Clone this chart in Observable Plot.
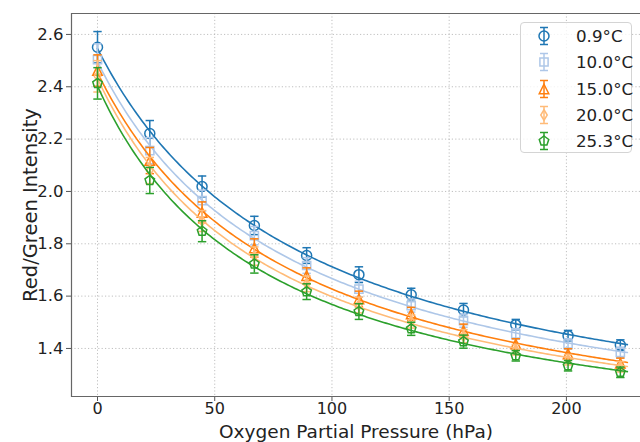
<!DOCTYPE html>
<html><head><meta charset="utf-8">
<script src="https://cdn.jsdelivr.net/npm/d3@7"></script>
<script src="https://cdn.jsdelivr.net/npm/@observablehq/plot@0.6"></script>
<style>
html,body{margin:0;padding:0;background:#fff;overflow:hidden}
#wrap{position:relative;width:640px;height:442px}
#legend{position:absolute;left:520px;top:22px;width:112px;height:131px;border:1px solid #d4d4d4;border-radius:4px;background:rgba(255,255,255,0.8);font-family:"DejaVu Sans";font-size:16.7px;color:#222;box-sizing:border-box}
.row{position:absolute;left:0;height:26px;width:112px}
.row svg{position:absolute;left:8px;top:0}
.row span{position:absolute;left:55px;top:3px;line-height:20px}
</style></head><body><div id="wrap"></div>
<script>
// Oxygen partial pressure (hPa)
const pressures = [0, 22.3, 44.6, 66.9, 89.2, 111.5, 133.8, 156.1, 178.4, 200.7, 223.0];
const seriesLabels = ["0.9°C", "10.0°C", "15.0°C", "20.0°C", "25.3°C"];
const ratio09 = [2.551, 2.221, 2.019, 1.870, 1.755, 1.682, 1.605, 1.547, 1.491, 1.449, 1.413];
const ratio10 = [2.504, 2.156, 1.965, 1.831, 1.717, 1.627, 1.564, 1.506, 1.456, 1.417, 1.385];
const ratio15 = [2.462, 2.118, 1.920, 1.784, 1.678, 1.589, 1.532, 1.468, 1.417, 1.379, 1.343];
const ratio20 = [2.440, 2.080, 1.887, 1.753, 1.647, 1.566, 1.503, 1.447, 1.395, 1.357, 1.330];
const ratio25 = [2.413, 2.042, 1.848, 1.723, 1.617, 1.541, 1.475, 1.426, 1.372, 1.334, 1.309];
const errors  = [0.060, 0.050, 0.040, 0.035, 0.030, 0.030, 0.025, 0.025, 0.020, 0.020, 0.020];
const xTicks = [0, 50, 100, 150, 200];
const yTicks = [1.4, 1.6, 1.8, 2.0, 2.2, 2.4, 2.6];
const fitExtent = [0, 226];

const colors = ["#1f77b4", "#aec7e8", "#ff7f0e", "#ffbb78", "#2ca02c"];
const values = [ratio09, ratio10, ratio15, ratio20, ratio25];

// custom marker shapes (size -> radius r)
const R = s => Math.sqrt(s / Math.PI);
const symbols = [
  {draw(c, s) { const r = R(s); c.moveTo(r, 0); c.arc(0, 0, r, 0, 2 * Math.PI); c.closePath(); }},
  {draw(c, s) { const r = R(s) * 0.82; c.moveTo(-r, -r); c.lineTo(r, -r); c.lineTo(r, r); c.lineTo(-r, r); c.closePath(); }},
  {draw(c, s) { const r = R(s) * 0.95; c.moveTo(0, -r); c.lineTo(r, r); c.lineTo(-r, r); c.closePath(); }},
  {draw(c, s) { const r = R(s); c.moveTo(0, -r * 1.05); c.lineTo(r * 0.65, 0); c.lineTo(0, r * 1.05); c.lineTo(-r * 0.65, 0); c.closePath(); }},
  {draw(c, s) { const r = R(s); for (let k = 0; k < 5; k++) { const a = -Math.PI / 2 + k * 2 * Math.PI / 5; const px = r * Math.cos(a), py = r * Math.sin(a); k ? c.lineTo(px, py) : c.moveTo(px, py); } c.closePath(); }}
];
const cap = {draw(c, s) { const r = R(s); c.moveTo(-r, 0); c.lineTo(r, 0); }};

// least-squares fit of v = A + B/(1 + K p)
function fit(ps, vs) {
  let best = null;
  for (let K = 0.0005; K <= 0.08; K += 0.0001) {
    const f = ps.map(p => 1 / (1 + K * p));
    const mf = d3.mean(f), mv = d3.mean(vs);
    let sff = 0, sfv = 0;
    f.forEach((fi, i) => { sff += (fi - mf) ** 2; sfv += (fi - mf) * (vs[i] - mv); });
    const B = sfv / sff, A = mv - B * mf;
    let sse = 0;
    f.forEach((fi, i) => { sse += (A + B * fi - vs[i]) ** 2; });
    if (!best || sse < best.sse) best = {K, A, B, sse};
  }
  return best;
}

const mL = 71, mT = 13, mB = 46, W = 640, H = 442;
const rMark = 5;
const marks = [
  Plot.gridX(xTicks, {stroke: "#b0b0b0", strokeOpacity: 1, strokeWidth: 0.8, strokeDasharray: "1.2,2.2"}),
  Plot.gridY(yTicks, {stroke: "#b0b0b0", strokeOpacity: 1, strokeWidth: 0.8, strokeDasharray: "1.2,2.2"}),
  Plot.axisX(xTicks, {tickSize: 5, tickPadding: 1, fontSize: 16, label: null, stroke: "#555", fill: "#222"}),
  Plot.axisY(yTicks, {tickSize: 5, tickPadding: 3, fontSize: 16.5, label: null, stroke: "#555", fill: "#222", tickFormat: d3.format(".1f")}),
  Plot.text(["Oxygen Partial Pressure (hPa)"], {text: d => d, frameAnchor: "bottom", dy: 35.5, fontSize: 18.5, lineAnchor: "middle", fill: "#222"}),
  Plot.text(["Red/Green Intensity"], {text: d => d, frameAnchor: "left", dx: -41, rotate: -90, fontSize: 19.5, textAnchor: "middle", lineAnchor: "middle", fill: "#222"})
];

values.forEach((vals, i) => {
  const rows = pressures.map((p, j) => ({p, v: vals[j], e: errors[j]}));
  const fp = fit(pressures, vals);
  const curve = d3.range(fitExtent[0], fitExtent[1] + 0.01, 1).map(p => ({p, v: fp.A + fp.B / (1 + fp.K * p)}));
  const col = colors[i];
  marks.push(
    Plot.ruleX(rows, {x: "p", y1: d => d.v - d.e, y2: d => d.v + d.e, stroke: col, strokeWidth: 1.5}),
    Plot.dot(rows, {x: "p", y: d => d.v + d.e, symbol: cap, r: 4.2, stroke: col, strokeWidth: 1.5, fill: "none"}),
    Plot.dot(rows, {x: "p", y: d => d.v - d.e, symbol: cap, r: 4.2, stroke: col, strokeWidth: 1.5, fill: "none"}),
    Plot.dot(rows, {x: "p", y: "v", symbol: symbols[i], r: rMark, stroke: col, strokeWidth: 1.5, fill: "none"}),
    Plot.line(curve, {x: "p", y: "v", stroke: col, strokeWidth: 1.6})
  );
});

const plot = Plot.plot({
  width: W, height: H,
  marginLeft: mL, marginTop: mT, marginBottom: mB, marginRight: 0,
  x: {domain: [-11.09, 231.6]},
  y: {domain: [1.2164, 2.680]},
  style: {fontFamily: "DejaVu Sans", fontSize: "16.5px", background: "white", color: "#222"},
  marks
});

// spines: left, top, bottom
d3.select(plot).append("path")
  .attr("d", `M${W},${mT + 0.5}H${mL + 0.5}V${H - mB + 0.5}H${W}`)
  .attr("fill", "none").attr("stroke", "#666").attr("stroke-width", 1.2);

const wrap = document.getElementById("wrap");
wrap.appendChild(plot);

// legend
const leg = document.createElement("div");
leg.id = "legend";
seriesLabels.forEach((lab, i) => {
  const row = document.createElement("div");
  row.className = "row";
  row.style.top = (i * 26.25) + "px";
  const svg = d3.create("svg").attr("width", 30).attr("height", 26);
  const g = svg.append("g").attr("transform", "translate(15,13)").attr("stroke", colors[i]).attr("fill", "none").attr("stroke-width", 1.5);
  g.append("line").attr("y1", -8.5).attr("y2", 8.5);
  g.append("line").attr("x1", -4).attr("x2", 4).attr("y1", -8.5).attr("y2", -8.5);
  g.append("line").attr("x1", -4).attr("x2", 4).attr("y1", 8.5).attr("y2", 8.5);
  g.append("path").attr("d", d3.symbol(symbols[i], Math.PI * rMark * rMark)());
  row.appendChild(svg.node());
  const sp = document.createElement("span");
  sp.textContent = lab;
  row.appendChild(sp);
  leg.appendChild(row);
});
wrap.appendChild(leg);
</script></body></html>
